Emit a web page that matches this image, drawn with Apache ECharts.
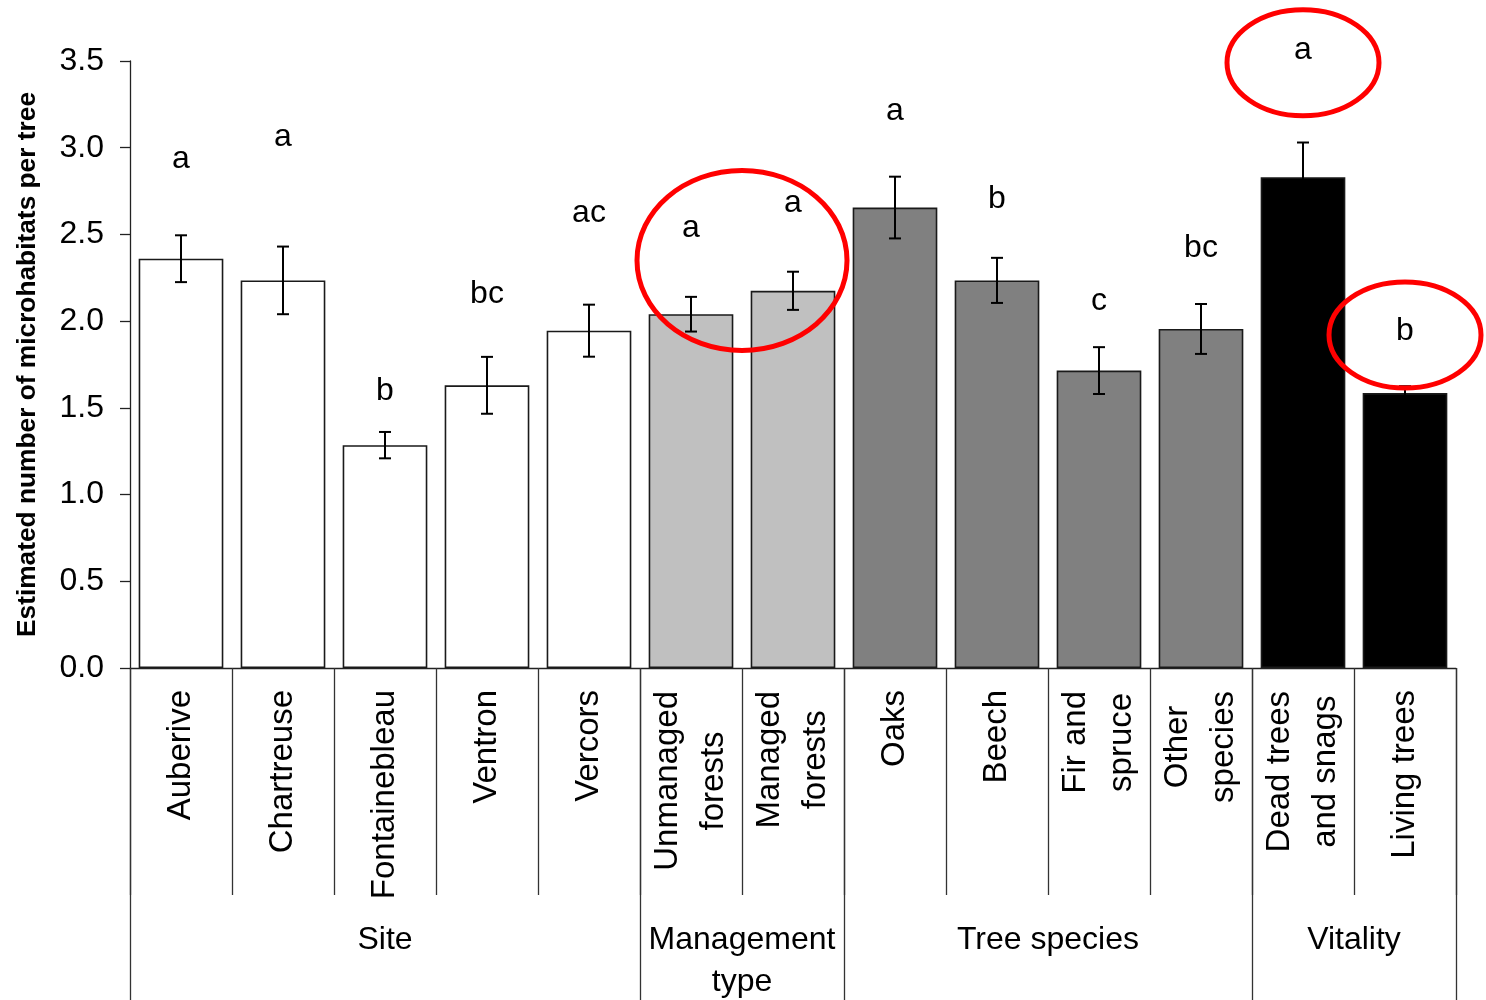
<!DOCTYPE html>
<html>
<head>
<meta charset="utf-8">
<script src="https://cdn.jsdelivr.net/npm/echarts@6/dist/echarts.min.js"></script>
<style>
  html, body { margin: 0; padding: 0; background: #fff; }
  #chart { width: 1486px; height: 1000px; }
</style>
</head>
<body>
<div id="chart"></div>
<script>
// Categories along the x axis (line breaks as printed under each bar)
const categories = [
  'Auberive', 'Chartreuse', 'Fontainebleau', 'Ventron', 'Vercors',
  'Unmanaged\nforests', 'Managed\nforests',
  'Oaks', 'Beech', 'Fir and\nspruce', 'Other\nspecies',
  'Dead trees\nand snags', 'Living trees'
];
// Estimated mean number of microhabitats per tree
const means = [2.36, 2.235, 1.285, 1.63, 1.945, 2.04, 2.175, 2.655, 2.235, 1.715, 1.955, 2.83, 1.585];
// Half-length of the error bars
const errors = [0.135, 0.195, 0.076, 0.164, 0.15, 0.10, 0.11, 0.178, 0.13, 0.135, 0.144, 0.20, 0.04];
// Significance letters and the level they are printed at
const letters = ['a', 'a', 'b', 'bc', 'ac', 'a', 'a', 'a', 'b', 'c', 'bc', 'a', 'b'];
const letterLevels = [2.935, 3.06, 1.595, 2.155, 2.625, 2.535, 2.679, 3.21, 2.701, 2.114, 2.422, 3.565, 1.942];
// Factor groups and how many categories each one spans
const groups = ['Site', 'Management\ntype', 'Tree species', 'Vitality'];
const groupSizes = [5, 2, 4, 2];
// Y axis tick values
const yTicks = [0, 0.5, 1.0, 1.5, 2.0, 2.5, 3.0, 3.5];
// Circled letters: categories involved and the level of the ring centre
const highlights = [
  { members: [5, 6], level: 2.35 },
  { members: [11], level: 3.49 },
  { members: [12], level: 1.92 }
];

const FONT = '"Liberation Sans", Arial, Helvetica, sans-serif';
const groupColors = ['#ffffff', '#c0c0c0', '#808080', '#000000'];
const ringRadii = [[105, 90], [76, 53], [76, 53]];

// group index of every category
const groupOf = [];
groups.forEach((g, gi) => { for (let k = 0; k < groupSizes[gi]; k++) groupOf.push(gi); });

// Half-band axis used for the group separators and group names
const halfCount = categories.length * 2;
const halfNames = [];
for (let i = 0; i <= halfCount; i++) halfNames.push(String(i));
const boundaryIdx = new Set([0]);
const groupLabelAt = {};
let acc = 0;
groups.forEach((g, gi) => {
  groupLabelAt[acc + groupSizes[gi]] = g;   // centre of the group, in half bands
  acc += groupSizes[gi] * 2;
  boundaryIdx.add(acc);
});

// Multi-line category labels: centre each line inside the label block
const catFontSize = 33;
const ctx = document.createElement('canvas').getContext('2d');
ctx.font = catFontSize + 'px ' + FONT;
const richStyles = {};
const catFormatted = categories.map((c, i) => {
  const lines = c.split('\n');
  if (lines.length === 1) return c;
  const w = Math.max(...lines.map(l => ctx.measureText(l).width)) + 2;
  const key = 'w' + i;
  richStyles[key] = { width: w, align: 'center', fontSize: catFontSize, fontFamily: FONT, lineHeight: 46, color: '#000' };
  return lines.map(l => '{' + key + '|' + l + '}').join('\n');
});

const chart = echarts.init(document.getElementById('chart'), null, { renderer: 'canvas' });

const gridBox = { left: 130, right: 30, top: 61, bottom: 332, containLabel: false, outerBoundsMode: 'none' };

const option = {
  animation: false,
  backgroundColor: '#ffffff',
  grid: [Object.assign({}, gridBox), Object.assign({}, gridBox)],
  xAxis: [
    {
      type: 'category',
      gridIndex: 0,
      data: categories,
      axisLine: { show: true, lineStyle: { color: '#222', width: 1.3 } },
      axisTick: { show: true, interval: 0, length: 227, lineStyle: { color: '#333', width: 1.3 } },
      axisLabel: {
        interval: 0,
        rotate: 90,
        margin: 22,
        fontSize: catFontSize,
        lineHeight: 46,
        fontFamily: FONT,
        color: '#000',
        formatter: (v, i) => catFormatted[i],
        rich: richStyles
      },
      splitLine: { show: false }
    },
    {
      type: 'category',
      gridIndex: 1,
      boundaryGap: false,
      data: halfNames,
      axisLine: { show: false },
      axisTick: {
        show: true,
        interval: (idx) => boundaryIdx.has(idx),
        length: 332,
        lineStyle: { color: '#333', width: 1.3 }
      },
      axisLabel: {
        interval: (idx) => groupLabelAt[idx] !== undefined,
        formatter: (v, idx) => groupLabelAt[idx] || '',
        margin: 251,
        fontSize: 32,
        lineHeight: 42,
        fontFamily: FONT,
        color: '#000'
      },
      splitLine: { show: false }
    }
  ],
  yAxis: [
    {
      type: 'value',
      gridIndex: 0,
      min: yTicks[0],
      max: yTicks[yTicks.length - 1],
      interval: yTicks[1] - yTicks[0],
      name: 'Estimated number of microhabitats per tree',
      nameLocation: 'middle',
      nameRotate: 90,
      nameGap: 89,
      nameMoveOverlap: false,
      nameTextStyle: { fontSize: 26.3, fontWeight: 'bold', fontFamily: FONT, color: '#000' },
      axisLine: { show: true, lineStyle: { color: '#222', width: 1.3 } },
      axisTick: { show: true, length: 10, inside: false, lineStyle: { color: '#222', width: 1.3 } },
      axisLabel: {
        margin: 26,
        fontSize: 32,
        fontFamily: FONT,
        color: '#000',
        formatter: (v) => v.toFixed(1)
      },
      splitLine: { show: false }
    },
    { type: 'value', gridIndex: 1, show: false, min: 0, max: 1 }
  ],
  series: [
    {
      name: 'mean',
      type: 'bar',
      xAxisIndex: 0,
      yAxisIndex: 0,
      barWidth: '83%',
      data: means.map((m, i) => ({
        value: m,
        itemStyle: {
          color: groupColors[groupOf[i]],
          borderColor: '#1a1a1a',
          borderWidth: 1.6
        }
      }))
    },
    {
      name: 'error',
      type: 'custom',
      xAxisIndex: 0,
      yAxisIndex: 0,
      data: means.map((m, i) => [i, m - errors[i], m + errors[i]]),
      encode: { x: 0, y: [1, 2] },
      renderItem: function (params, api) {
        const i = api.value(0);
        const lo = api.coord([i, api.value(1)]);
        const hi = api.coord([i, api.value(2)]);
        const x = Math.round(lo[0]);
        const cap = 6;
        const st = { stroke: '#000', lineWidth: 2 };
        return {
          type: 'group',
          children: [
            { type: 'line', shape: { x1: x, y1: hi[1], x2: x, y2: lo[1] }, style: st },
            { type: 'line', shape: { x1: x - cap, y1: hi[1], x2: x + cap, y2: hi[1] }, style: st },
            { type: 'line', shape: { x1: x - cap, y1: lo[1], x2: x + cap, y2: lo[1] }, style: st }
          ]
        };
      },
      z: 3
    },
    {
      name: 'letters',
      type: 'custom',
      xAxisIndex: 0,
      yAxisIndex: 0,
      data: letterLevels.map((v, i) => [i, v]),
      encode: { x: 0, y: 1 },
      renderItem: function (params, api) {
        const p = api.coord([api.value(0), api.value(1)]);
        return {
          type: 'text',
          x: p[0],
          y: p[1],
          style: {
            text: letters[params.dataIndex],
            fontSize: 32,
            fontFamily: FONT,
            fill: '#000',
            align: 'center',
            verticalAlign: 'middle'
          }
        };
      },
      z: 4
    },
    {
      name: 'rings',
      type: 'custom',
      xAxisIndex: 0,
      yAxisIndex: 0,
      data: highlights.map(h => [h.members[0], h.level]),
      encode: { x: 0, y: 1 },
      renderItem: function (params, api) {
        const h = highlights[params.dataIndex];
        const xs = h.members.map(m => api.coord([m, h.level])[0]);
        const cx = (Math.min(...xs) + Math.max(...xs)) / 2;
        const cy = api.coord([h.members[0], h.level])[1];
        const r = ringRadii[params.dataIndex];
        return {
          type: 'ellipse',
          shape: { cx: cx, cy: cy, rx: r[0], ry: r[1] },
          style: { fill: 'none', stroke: '#ff0000', lineWidth: 5 }
        };
      },
      z: 5
    }
  ]
};

chart.setOption(option);
</script>
</body>
</html>
